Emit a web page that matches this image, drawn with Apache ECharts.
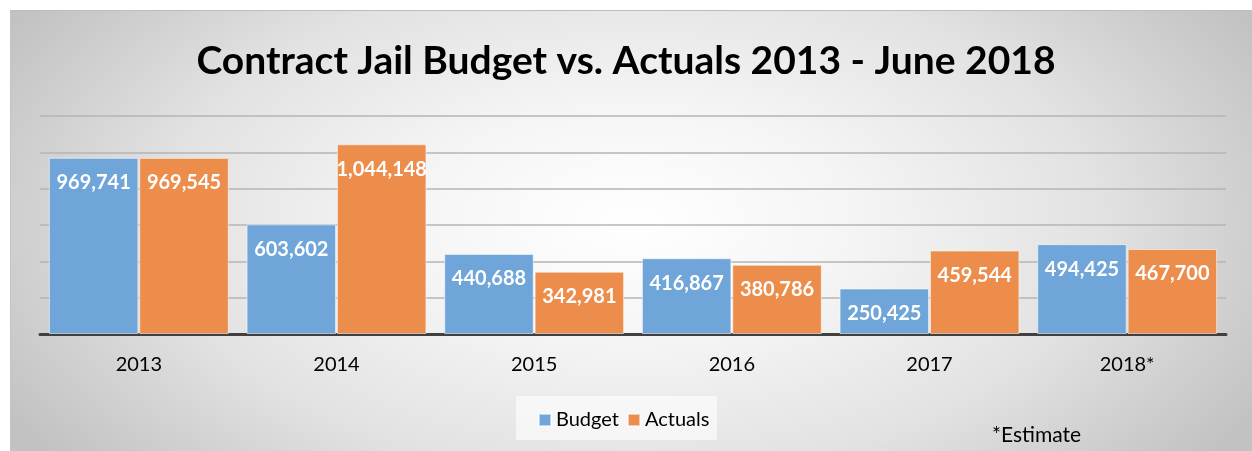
<!DOCTYPE html>
<html><head><meta charset="utf-8">
<script src="https://cdn.jsdelivr.net/npm/echarts@6/dist/echarts.min.js"></script>
<style>
html,body{margin:0;padding:0;background:#fff}
#wrap{position:relative;width:1252px;height:451px;overflow:hidden}
#bg{position:absolute;left:10px;top:10px;width:1242px;height:441px;border-top:1px solid #bdbdbd;border-left:1px solid #c4c4c4;box-sizing:border-box;
background:radial-gradient(ellipse 58% 88% at 50% 48%, #ffffff 0%, #f5f5f5 30%, #e2e2e2 65%, #c2c2c2 100%);}
#c{position:absolute;left:0;top:0;width:1252px;height:451px}
</style>
</head><body><div id="wrap"><div id="bg"></div><div id="c"></div></div>
<script>
const categories = ['2013','2014','2015','2016','2017','2018*'];
const budget = [969741, 603602, 440688, 416867, 250425, 494425];
const actuals = [969545, 1044148, 342981, 380786, 459544, 467700];
const titleText = 'Contract Jail Budget vs. Actuals 2013 - June 2018';
const noteText = '*Estimate';

const chart = echarts.init(document.getElementById('c'));
const labelStyle = {
  show: true, position: 'insideTop', distance: 15, color: '#fff',
  fontFamily: 'Lato', fontWeight: 'bold', fontSize: 20,
  formatter: p => p.value.toLocaleString('en-US')
};
chart.setOption({
  animation: false,
  backgroundColor: 'transparent',
  graphic: [
    {type: 'rect', z: -5, shape: {x: 516, y: 396, width: 201, height: 44}, style: {fill: 'rgba(255,255,255,0.6)'}},
    {type: 'text', left: 992, top: 425, style: {text: noteText, fontFamily: 'Lato', fontSize: 21, fill: '#000'}}
  ],
  title: {text: titleText, left: 'center', top: 37,
    textStyle: {fontFamily: 'Lato', fontWeight: 'bold', fontSize: 39, color: '#000'}},
  legend: {data: ['Budget', 'Actuals'], left: 533, top: 405, itemWidth: 12, itemHeight: 12, itemGap: 8,
    icon: 'rect', textStyle: {fontFamily: 'Lato', fontSize: 20, color: '#000'}},
  grid: {left: 40, right: 26, top: 116, bottom: 117},
  xAxis: {type: 'category', data: categories,
    axisLine: {show: true, lineStyle: {color: '#404040', width: 3}},
    axisTick: {show: false},
    axisLabel: {fontFamily: 'Lato', fontSize: 20, color: '#000', margin: 21}},
  yAxis: {type: 'value', min: 0, max: 1200000, interval: 200000,
    axisLabel: {show: false}, axisLine: {show: false}, axisTick: {show: false},
    splitLine: {lineStyle: {color: '#b5b5b5', width: 1.5}}},
  series: [
    {name: 'Budget', type: 'bar', data: budget, barGap: '1%', barCategoryGap: '9%',
     itemStyle: {color: '#6fa5d8', borderColor: 'rgba(255,255,255,0.55)', borderWidth: 1}, label: labelStyle},
    {name: 'Actuals', type: 'bar', data: actuals,
     itemStyle: {color: '#ec8d4c', borderColor: 'rgba(255,255,255,0.55)', borderWidth: 1}, label: labelStyle}
  ]
});
</script></body></html>
